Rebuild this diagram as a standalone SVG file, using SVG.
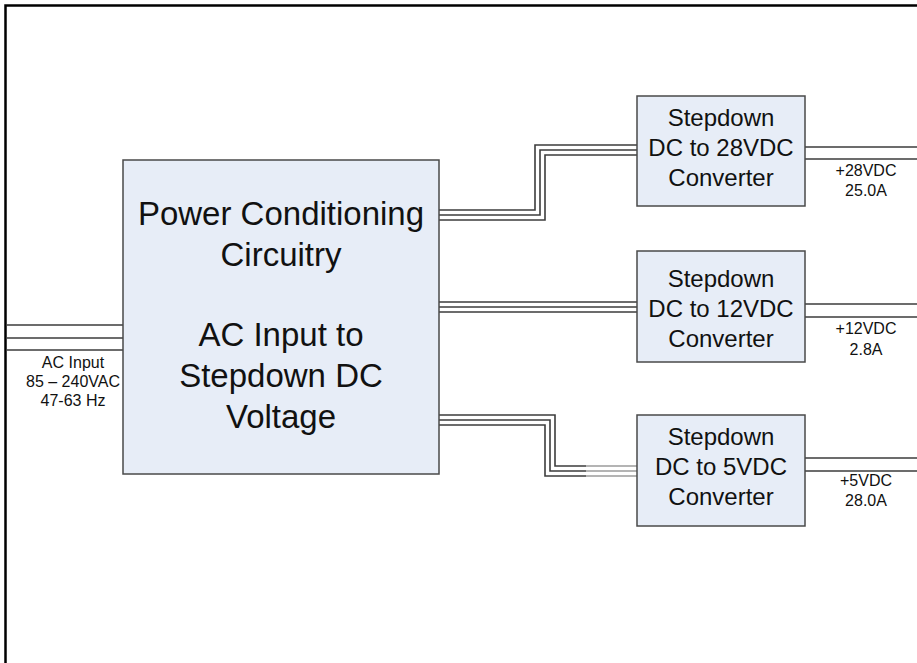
<svg xmlns="http://www.w3.org/2000/svg" width="917" height="663" viewBox="0 0 917 663">
<style>
.box{fill:#e7edf7;stroke:#4a4a4a;stroke-width:1.5}
.w{fill:none;stroke:#3c3c3c;stroke-width:1.6}
.g{fill:none;stroke:#b4b4b4;stroke-width:1.8}
.big{font-family:"Liberation Sans",Arial,sans-serif;font-size:33px;fill:#111;text-anchor:middle}
.mid{font-family:"Liberation Sans",Arial,sans-serif;font-size:24px;fill:#111;text-anchor:middle}
.sm{font-family:"Liberation Sans",Arial,sans-serif;font-size:16px;fill:#111;text-anchor:middle}
</style>
<rect x="0" y="0" width="917" height="663" fill="#fff"/>
<rect x="5.5" y="5.5" width="1000" height="1000" fill="none" stroke="#000" stroke-width="2.5"/>
<g id="connectors">
<path class="w" d="M7 325H123M7 338H123M7 350H123"/>
<path class="w" d="M439 210H535V145H637M439 215H540V150H637M439 220H545V155H637"/>
<path class="w" d="M439 302H637M439 307H637M439 312H637"/>
<path class="w" d="M439 415H555V466H586M439 420H550V471H586M439 425H545V476H586"/>
<path class="g" d="M586 466H637M586 471H637M586 476H637"/>
<path class="w" d="M805 147H917M805 159H917"/>
<path class="w" d="M805 304H917M805 317H917"/>
<path class="w" d="M805 458H917M805 471H917"/>
</g>
<g id="ac-input">
<text class="sm" x="73" y="368">AC Input</text>
<text class="sm" x="73" y="387">85 – 240VAC</text>
<text class="sm" x="73" y="406">47-63 Hz</text>
</g>
<g id="power-conditioning">
<rect class="box" x="123" y="160" width="316" height="314"/>
<text class="big" x="281" y="225">Power Conditioning</text>
<text class="big" x="281" y="266">Circuitry</text>
<text class="big" x="281" y="346">AC Input to</text>
<text class="big" x="281" y="387">Stepdown DC</text>
<text class="big" x="281" y="428">Voltage</text>
</g>
<g id="conv28">
<rect class="box" x="637" y="96" width="168" height="110"/>
<text class="mid" x="721" y="126">Stepdown</text>
<text class="mid" x="721" y="156">DC to 28VDC</text>
<text class="mid" x="721" y="186">Converter</text>
</g>
<g id="conv12">
<rect class="box" x="637" y="251" width="168" height="111"/>
<text class="mid" x="721" y="287">Stepdown</text>
<text class="mid" x="721" y="317">DC to 12VDC</text>
<text class="mid" x="721" y="347">Converter</text>
</g>
<g id="conv5">
<rect class="box" x="637" y="415" width="168" height="111"/>
<text class="mid" x="721" y="445">Stepdown</text>
<text class="mid" x="721" y="475">DC to 5VDC</text>
<text class="mid" x="721" y="505">Converter</text>
</g>
<g id="out28">
<text class="sm" x="866" y="176">+28VDC</text>
<text class="sm" x="866" y="196">25.0A</text>
</g>
<g id="out12">
<text class="sm" x="866" y="334">+12VDC</text>
<text class="sm" x="866" y="355">2.8A</text>
</g>
<g id="out5">
<text class="sm" x="866" y="486">+5VDC</text>
<text class="sm" x="866" y="506">28.0A</text>
</g>
</svg>
